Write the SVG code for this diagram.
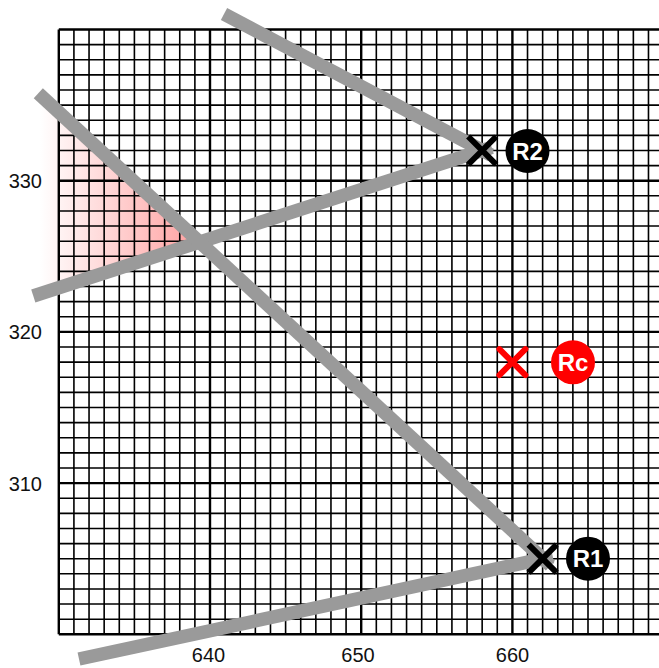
<svg xmlns="http://www.w3.org/2000/svg" width="659" height="668" viewBox="0 0 659 668">
<style>
.minor{stroke:#000;stroke-width:1.6;fill:none}
.major{stroke:#000;stroke-width:2.4;fill:none}
.axis{font-family:"Liberation Sans",Arial,sans-serif;font-size:20px;fill:#111}
.conn{stroke:#9a9a9a;stroke-width:13.5;fill:none;stroke-linecap:butt}
.xk{stroke:#000;stroke-width:6;fill:none}
.xr{stroke:#ff0000;stroke-width:6;fill:none;stroke-linecap:round}
.lbl{font-family:"Liberation Sans",Arial,sans-serif;font-size:24px;font-weight:bold;fill:#fff;text-anchor:middle}
</style>
<defs>
<linearGradient id="pinkg" gradientUnits="userSpaceOnUse" x1="200" y1="0" x2="40" y2="0">
<stop offset="0" stop-color="#ff9494" stop-opacity="0.9"/>
<stop offset="1" stop-color="#ff9494" stop-opacity="0"/>
</linearGradient>
</defs>
<rect width="659" height="668" fill="#fff"/>
<polygon points="199.6,242.1 30,85.6 20,300.3" fill="url(#pinkg)"/>
<g id="grid">
<path class="minor" d="M73.92 29.5V634.3M89.04 29.5V634.3M104.16 29.5V634.3M119.28 29.5V634.3M134.4 29.5V634.3M149.52 29.5V634.3M164.64 29.5V634.3M179.76 29.5V634.3M194.88 29.5V634.3M225.12 29.5V634.3M240.24 29.5V634.3M255.36 29.5V634.3M270.48 29.5V634.3M285.6 29.5V634.3M300.72 29.5V634.3M315.84 29.5V634.3M330.96 29.5V634.3M346.08 29.5V634.3M376.32 29.5V634.3M391.44 29.5V634.3M406.56 29.5V634.3M421.68 29.5V634.3M436.8 29.5V634.3M451.92 29.5V634.3M467.04 29.5V634.3M482.16 29.5V634.3M497.28 29.5V634.3M527.52 29.5V634.3M542.64 29.5V634.3M557.76 29.5V634.3M572.88 29.5V634.3M588 29.5V634.3M603.12 29.5V634.3M618.24 29.5V634.3M633.36 29.5V634.3M648.48 29.5V634.3
M58.8 619.18H664M58.8 604.06H664M58.8 588.94H664M58.8 573.82H664M58.8 558.7H664M58.8 543.58H664M58.8 528.46H664M58.8 513.34H664M58.8 498.22H664M58.8 467.98H664M58.8 452.86H664M58.8 437.74H664M58.8 422.62H664M58.8 407.5H664M58.8 392.38H664M58.8 377.26H664M58.8 362.14H664M58.8 347.02H664M58.8 316.78H664M58.8 301.66H664M58.8 286.54H664M58.8 271.42H664M58.8 256.3H664M58.8 241.18H664M58.8 226.06H664M58.8 210.94H664M58.8 195.82H664M58.8 165.58H664M58.8 150.46H664M58.8 135.34H664M58.8 120.22H664M58.8 105.1H664M58.8 89.98H664M58.8 74.86H664M58.8 59.74H664M58.8 44.62H664"/>
<path class="major" d="M58.8 29.5V634.3M210 29.5V634.3M361.2 29.5V634.3M512.4 29.5V634.3M58.8 634.3H664M58.8 483.1H664M58.8 331.9H664M58.8 180.7H664M58.8 29.5H664"/>
</g>
<g id="axis-labels" class="axis">
<text x="42" y="188" text-anchor="end">330</text>
<text x="42" y="339" text-anchor="end">320</text>
<text x="42" y="491" text-anchor="end">310</text>
<text x="208.5" y="662" text-anchor="middle">640</text>
<text x="358" y="662" text-anchor="middle">650</text>
<text x="512.5" y="662" text-anchor="middle">660</text>
</g>
<g id="connectors">
<line class="conn" x1="224" y1="14" x2="491" y2="155"/>
<line class="conn" x1="33.3" y1="296" x2="491.7" y2="147.4"/>
<line class="conn" x1="38.3" y1="93.3" x2="550.4" y2="565.6"/>
<line class="conn" x1="79" y1="659" x2="552.8" y2="556.7"/>
</g>
<g id="R2">
<path class="xk" d="M468.2 136.5L496.2 164.5M496.2 136.5L468.2 164.5"/>
<circle cx="527.5" cy="151" r="22" fill="#000"/>
<text class="lbl" x="527.5" y="159.5">R2</text>
</g>
<g id="Rc">
<path class="xr" d="M499.4 349.1L525.4 375.1M525.4 349.1L499.4 375.1"/>
<circle cx="573" cy="362.3" r="22" fill="#ff0000"/>
<text class="lbl" x="573" y="370.8">Rc</text>
</g>
<g id="R1">
<path class="xk" d="M528.6 544.7L556.6 572.7M556.6 544.7L528.6 572.7"/>
<circle cx="588" cy="558.7" r="22" fill="#000"/>
<text class="lbl" x="588" y="567.2">R1</text>
</g>
</svg>
